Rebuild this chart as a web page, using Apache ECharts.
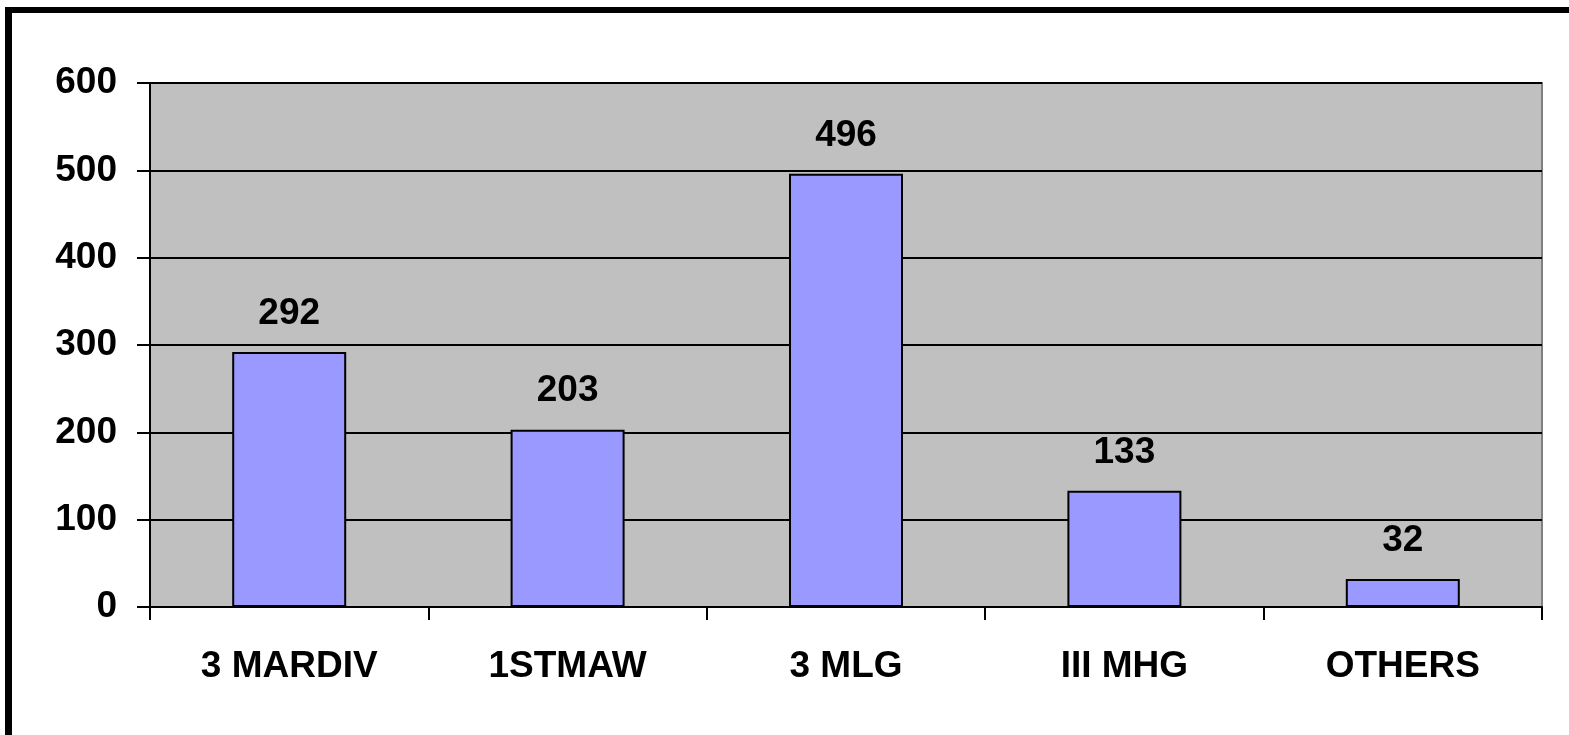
<!DOCTYPE html>
<html>
<head>
<meta charset="utf-8">
<script src="https://cdn.jsdelivr.net/npm/echarts@6/dist/echarts.min.js"></script>
<style>
html,body{margin:0;padding:0;background:#fff;}
#c{width:1569px;height:735px;}
</style>
</head>
<body>
<div id="c"></div>
<script>
const categories = ['3 MARDIV', '1STMAW', '3 MLG', 'III MHG', 'OTHERS'];
const values = [292, 203, 496, 133, 32];
const yTicks = [0, 100, 200, 300, 400, 500, 600];

const chart = echarts.init(document.getElementById('c'));
const font = 'Arial, "Liberation Sans", sans-serif';
chart.setOption({
  animation: false,
  backgroundColor: '#ffffff',
  graphic: [
    { type: 'rect', left: 5, top: 7, shape: { width: 1564, height: 6 }, style: { fill: '#000' } },
    { type: 'rect', left: 5, top: 7, shape: { width: 7, height: 728 }, style: { fill: '#000' } }
  ],
  grid: {
    left: 150, right: 27, top: 83, bottom: 128,
    show: true, backgroundColor: '#C0C0C0', borderColor: '#808080', borderWidth: 2
  },
  xAxis: {
    type: 'category',
    data: categories,
    axisLine: { lineStyle: { color: '#000', width: 2 } },
    axisTick: { show: true, length: 13, lineStyle: { color: '#000', width: 2 } },
    axisLabel: { color: '#000', fontWeight: 'bold', fontSize: 37, fontFamily: font, margin: 41 }
  },
  yAxis: {
    type: 'value',
    min: yTicks[0], max: yTicks[yTicks.length - 1], interval: 100,
    axisLine: { show: true, lineStyle: { color: '#000', width: 2 } },
    axisTick: { show: true, length: 13, lineStyle: { color: '#000', width: 2 } },
    splitLine: { show: true, lineStyle: { color: '#000', width: 2 } },
    axisLabel: { color: '#000', fontWeight: 'bold', fontSize: 37, fontFamily: font, margin: 33 }
  },
  series: [{
    type: 'bar',
    data: values,
    barWidth: 114,
    itemStyle: { color: '#9999FF', borderColor: '#000', borderWidth: 2 },
    label: {
      show: true, position: 'top', distance: 20,
      color: '#000', fontWeight: 'bold', fontSize: 37, fontFamily: font
    }
  }]
});
</script>
</body>
</html>
